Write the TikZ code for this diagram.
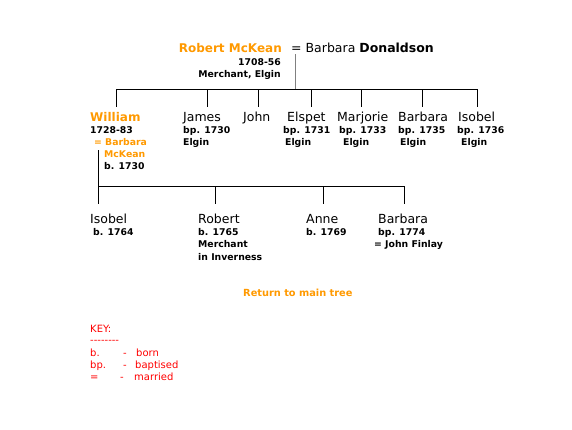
\documentclass[tikz,border=0pt]{standalone}
\usepackage{fontspec}
\setmainfont{DejaVu Sans}
\definecolor{orng}{HTML}{FF9900}
\definecolor{keyred}{HTML}{FF0000}
\definecolor{stemgray}{HTML}{808080}
\tikzset{
  lt/.style={inner sep=0pt, anchor=base west},
  rt/.style={inner sep=0pt, anchor=base east},
  pname/.style={lt, font=\fontsize{12.5}{14}\selectfont},
  oname/.style={lt, font=\fontsize{12}{14}\selectfont\bfseries, text=orng},
  small/.style={lt, font=\fontsize{9.3}{11}\selectfont\bfseries},
  rsmall/.style={rt, font=\fontsize{9.3}{11}\selectfont\bfseries},
  osmall/.style={lt, font=\fontsize{9.3}{11}\selectfont\bfseries, text=orng},
  keyt/.style={lt, font=\fontsize{10}{12}\selectfont, text=keyred},
  conn/.style={draw=black, line width=1pt},
}
\begin{document}
\begin{tikzpicture}[x=1pt, y=-1pt]
\useasboundingbox (0,0) rectangle (572,429);
% generation 1
\node[rt, font=\fontsize{12}{14}\selectfont\bfseries, text=orng] (robert) at (282,52) {Robert McKean};
\node[lt, font=\fontsize{12.5}{14}\selectfont] (spouse1) at (291,52) {= Barbara \textbf{Donaldson}};
\node[rsmall] (rdates) at (281,65) {1708-56};
\node[rsmall] (rplace) at (281,77) {Merchant, Elgin};
\coordinate (stemtop) at (295.5,54);
\coordinate (bar1) at (295.5,89);
\draw[draw=stemgray, line width=1pt] (stemtop) -- (bar1);
% bar gen 2
\coordinate (b1l) at (116,89);
\coordinate (b1r) at (477,89);
\draw[conn] (b1l) -- (b1r);
\foreach \x/\n in {116/dw,207/dj,258/djo,311/de,361/dm,422/db,477/di}{
  \coordinate (\n t) at (\x,89);
  \coordinate (\n b) at (\x,107);
  \draw[conn] (\n t) -- (\n b);
}
% generation 2
\node[oname] (william) at (90,121) {William};
\node[small] (wdates) at (90,133) {1728-83};
\node[osmall] (wsp1) at (94,145) {= Barbara};
\node[osmall] (wsp2) at (104,157) {McKean};
\node[small] (wsp3) at (104,169) {b. 1730};
\node[pname] (james) at (183,121) {James};
\node[small] (jd) at (183,133) {bp. 1730};
\node[small] (jp) at (183,145) {Elgin};
\node[pname] (john) at (243,121) {John};
\node[pname] (elspet) at (287,121) {Elspet};
\node[small] (ed) at (283,133) {bp. 1731};
\node[small] (ep) at (285,145) {Elgin};
\node[pname] (marjorie) at (337,121) {Marjorie};
\node[small] (md) at (339,133) {bp. 1733};
\node[small] (mp) at (343,145) {Elgin};
\node[pname] (barbara) at (398,121) {Barbara};
\node[small] (bd) at (398,133) {bp. 1735};
\node[small] (bp) at (400,145) {Elgin};
\node[pname] (isobel) at (458,121) {Isobel};
\node[small] (id) at (457,133) {bp. 1736};
\node[small] (ip) at (461,145) {Elgin};
% William's children
\coordinate (wst) at (98,150);
\coordinate (wsb) at (98,204);
\draw[conn] (wst) -- (wsb);
\coordinate (b2l) at (98,186);
\coordinate (b2r) at (404,186);
\draw[conn] (b2l) -- (b2r);
\foreach \x/\n in {215/cr,323/ca,404/cb}{
  \coordinate (\n t) at (\x,186);
  \coordinate (\n b) at (\x,204);
  \draw[conn] (\n t) -- (\n b);
}
\node[pname] (isobel2) at (90,223) {Isobel};
\node[small] (i2d) at (93,235) {b. 1764};
\node[pname] (robert2) at (198,223) {Robert};
\node[small] (r2d) at (198,235) {b. 1765};
\node[small] (r2o) at (198,247) {Merchant};
\node[small] (r2p) at (198,260) {in Inverness};
\node[pname] (anne) at (306,223) {Anne};
\node[small] (ad) at (306,235) {b. 1769};
\node[pname] (barbara2) at (378,223) {Barbara};
\node[small] (b2d) at (378,235) {bp. 1774};
\node[small] (b2s) at (374,247) {= John \textbf{Finlay}};
% return link
\node[lt, font=\fontsize{9.8}{11}\selectfont\bfseries, text=orng] (ret) at (243,296) {Return to main tree};
% key
\node[keyt] (key) at (90,332) {KEY:};
\node[keyt] (keyline) at (90,343) {{-}{-}{-}{-}{-}{-}{-}{-}};
\node[keyt] (k1a) at (90,356) {b.};
\node[keyt] (k1b) at (123,356) {-};
\node[keyt] (k1c) at (136,356) {born};
\node[keyt] (k2a) at (90,368) {bp.};
\node[keyt] (k2b) at (123,368) {-};
\node[keyt] (k2c) at (135,368) {baptised};
\node[keyt] (k3a) at (90,380) {=};
\node[keyt] (k3b) at (120,380) {-};
\node[keyt] (k3c) at (134,380) {married};
\end{tikzpicture}
\end{document}
